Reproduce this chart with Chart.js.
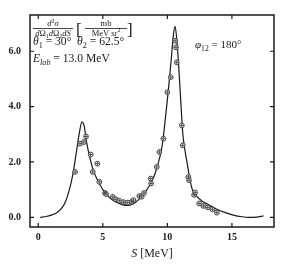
<!DOCTYPE html>
<html>
<head>
<meta charset="utf-8">
<script src="https://cdn.jsdelivr.net/npm/chart.js@4.4.0/dist/chart.umd.min.js"></script>
<style>
  html, body { margin: 0; padding: 0; background: #fff; }
</style>
</head>
<body>
<canvas id="chart" width="281" height="267"></canvas>
<script>
// theory curve (S in MeV, cross section)
const curveS = [0.15, 0.6, 1.0, 1.4, 1.8, 2.1, 2.4, 2.7, 3.0, 3.2, 3.38, 3.55, 3.75, 4.0, 4.3, 4.7, 5.0, 5.5, 6.0, 6.5, 6.9, 7.3, 7.8, 8.3, 8.8, 9.2, 9.6, 9.9, 10.1, 10.3, 10.47, 10.6, 10.75, 10.9, 11.05, 11.2, 11.5, 11.9, 12.2, 12.6, 13.2, 13.8, 14.5, 15.1, 15.8, 16.3, 16.9, 17.45];
const curveV = [0.0, 0.03, 0.08, 0.16, 0.32, 0.55, 0.98, 1.6, 2.5, 3.1, 3.45, 3.3, 2.7, 2.15, 1.65, 1.25, 1.0, 0.72, 0.55, 0.46, 0.43, 0.47, 0.65, 0.92, 1.3, 1.8, 2.6, 3.8, 4.7, 5.7, 6.6, 6.9, 6.3, 5.3, 4.1, 3.0, 2.05, 1.05, 0.8, 0.62, 0.45, 0.3, 0.17, 0.08, 0.02, 0.0, 0.01, 0.05];

// measured points
const pointS = [2.85, 3.23, 3.54, 3.7, 4.06, 4.22, 4.58, 4.73, 5.17, 5.25, 5.77, 6.02, 6.28, 6.59, 6.9, 7.24, 7.37, 7.83, 8.01, 8.19, 8.71, 8.74, 9.18, 9.38, 9.69, 10.0, 10.26, 10.6, 10.67, 10.73, 11.12, 11.19, 11.63, 11.68, 12.07, 12.15, 12.46, 12.79, 13.13, 13.49, 13.83];
const pointV = [1.64, 2.66, 2.72, 2.92, 2.27, 1.64, 1.94, 1.28, 0.88, 0.84, 0.74, 0.65, 0.6, 0.55, 0.53, 0.56, 0.62, 0.77, 0.74, 0.88, 1.4, 1.22, 1.82, 2.36, 2.84, 4.52, 5.06, 6.38, 6.14, 5.6, 3.32, 2.6, 1.46, 1.34, 0.81, 0.9, 0.5, 0.41, 0.36, 0.29, 0.17];

const xTicks = [0, 5, 10, 15];
const xLabels = ['0', '5', '10', '15'];
const yTicks = [0, 2, 4, 6];
const yLabels = ['0.0', '2.0', '4.0', '6.0'];

const INK = '#1a1a1a';
const SERIF = '"Liberation Serif", "DejaVu Serif", serif';

const curvePts = curveS.map((s, i) => ({ x: s, y: curveV[i] }));
const measPts = pointS.map((s, i) => ({ x: s, y: pointV[i] }));

// text runs with italic / sub / sup pieces
function pieceFont(p, size) {
    const s = (p.sub || p.sup) ? size * 0.7 : size;
    return (p.it ? 'italic ' : '') + s.toFixed(1) + 'px ' + SERIF;
}
function runWidth(ctx, pieces, size) {
    let w = 0;
    pieces.forEach(p => { ctx.font = pieceFont(p, size); w += ctx.measureText(p.t).width; });
    return w;
}
function drawRun(ctx, x, y, pieces, size, center) {
    let cx = center ? x - runWidth(ctx, pieces, size) / 2 : x;
    pieces.forEach(p => {
        const dy = p.sub ? size * 0.25 : p.sup ? -size * 0.4 : 0;
        ctx.font = pieceFont(p, size);
        ctx.fillText(p.t, cx, y + dy);
        cx += ctx.measureText(p.t).width;
    });
}

const framePlugin = {
    id: 'frame',
    afterDraw(chart) {
        const { ctx, chartArea: a, scales } = chart;
        ctx.save();
        ctx.strokeStyle = INK;
        ctx.lineWidth = 1.5;
        ctx.strokeRect(a.left, a.top, a.right - a.left, a.bottom - a.top);

        // inward ticks on all four sides
        ctx.lineWidth = 1.2;
        ctx.beginPath();
        xTicks.forEach(v => {
            const px = scales.x.getPixelForValue(v);
            ctx.moveTo(px, a.bottom); ctx.lineTo(px, a.bottom - 4);
            ctx.moveTo(px, a.top); ctx.lineTo(px, a.top + 4);
        });
        yTicks.forEach(v => {
            const py = scales.y.getPixelForValue(v);
            ctx.moveTo(a.left, py); ctx.lineTo(a.left + 4, py);
            ctx.moveTo(a.right, py); ctx.lineTo(a.right - 4, py);
        });
        ctx.stroke();

        ctx.fillStyle = INK;
        ctx.textBaseline = 'alphabetic';

        // d2sigma / dOmega1 dOmega2 dS  [mb / MeV sr2]
        drawRun(ctx, 53, 26, [{ t: 'd', it: 1 }, { t: '2', sup: 1 }, { t: 'σ', it: 1 }], 8.5, true);
        drawRun(ctx, 53, 35.5, [{ t: 'd', it: 1 }, { t: 'Ω' }, { t: '1', sub: 1 }, { t: 'd', it: 1 }, { t: 'Ω' }, { t: '2', sub: 1 }, { t: 'd', it: 1 }, { t: 'S', it: 1 }], 8.5, true);
        ctx.lineWidth = 0.8;
        ctx.beginPath();
        ctx.moveTo(33, 28.5); ctx.lineTo(73, 28.5);
        ctx.moveTo(85, 28.5); ctx.lineTo(127, 28.5);
        ctx.stroke();
        ctx.font = '17px ' + SERIF;
        ctx.fillText('[', 76, 35);
        ctx.fillText(']', 127, 35);
        drawRun(ctx, 106, 25.5, [{ t: 'mb' }], 8.5, true);
        drawRun(ctx, 106, 35.5, [{ t: 'MeV sr' }, { t: '2', sup: 1 }], 8.5, true);

        drawRun(ctx, 33, 45, [{ t: 'θ', it: 1 }, { t: '1', sub: 1 }, { t: ' = 30°  ' }, { t: 'θ', it: 1 }, { t: '2', sub: 1 }, { t: ' = 62.5°' }], 11.6);
        drawRun(ctx, 33, 62, [{ t: 'E', it: 1 }, { t: 'lab', it: 1, sub: 1 }, { t: ' = 13.0 MeV' }], 11.6);
        drawRun(ctx, 195, 48, [{ t: 'φ', it: 1 }, { t: '12', sub: 1 }, { t: ' = 180°' }], 11);

        // axis title
        drawRun(ctx, (a.left + a.right) / 2, 257, [{ t: 'S', it: 1 }, { t: ' [MeV]' }], 12, true);
        ctx.restore();
    }
};

new Chart(document.getElementById('chart').getContext('2d'), {
    data: {
        datasets: [
            {
                type: 'scatter',
                data: measPts,
                pointStyle: 'cross',
                pointRadius: 2,
                borderColor: '#333',
                borderWidth: 0.8,
                order: 1
            },
            {
                type: 'scatter',
                data: measPts,
                pointStyle: 'circle',
                pointRadius: 2.4,
                backgroundColor: 'rgba(255,255,255,0.9)',
                borderColor: '#333',
                borderWidth: 0.9,
                order: 2
            },
            {
                type: 'line',
                data: curvePts,
                borderColor: INK,
                borderWidth: 1.2,
                pointRadius: 0,
                fill: false,
                cubicInterpolationMode: 'monotone',
                order: 3
            }
        ]
    },
    options: {
        responsive: false,
        animation: false,
        layout: { padding: { left: 0, right: 7, top: 14, bottom: 0 } },
        plugins: {
            legend: { display: false },
            tooltip: { enabled: false }
        },
        scales: {
            x: {
                type: 'linear',
                min: -0.64,
                max: 18.26,
                afterBuildTicks: s => { s.ticks = xTicks.map(v => ({ value: v })); },
                afterFit: s => { s.height = 40; },
                grid: { display: false, drawTicks: false },
                border: { display: false },
                ticks: {
                    autoSkip: false,
                    maxRotation: 0,
                    padding: 4,
                    color: INK,
                    font: { family: SERIF, size: 10, weight: 'bold' },
                    callback: v => xLabels[xTicks.indexOf(v)]
                }
            },
            y: {
                type: 'linear',
                min: -0.35,
                max: 7.31,
                afterBuildTicks: s => { s.ticks = yTicks.map(v => ({ value: v })); },
                afterFit: s => { s.width = 30; },
                grid: { display: false, drawTicks: false },
                border: { display: false },
                ticks: {
                    padding: 9,
                    color: INK,
                    font: { family: SERIF, size: 10, weight: 'bold' },
                    callback: v => yLabels[yTicks.indexOf(v)]
                }
            }
        }
    },
    plugins: [framePlugin]
});
</script>
</body>
</html>
